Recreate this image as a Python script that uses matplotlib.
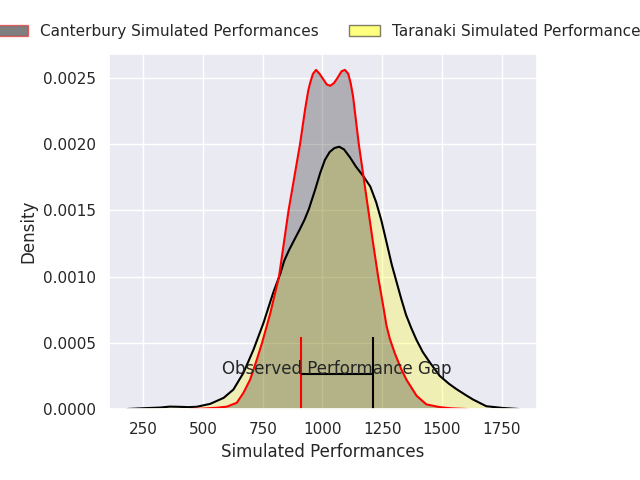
import matplotlib
matplotlib.use("Agg")
import matplotlib.pyplot as plt
import matplotlib.patches as mpatches
from matplotlib.ticker import MultipleLocator
import seaborn as sns

# --- density curves (x = performance, y = density) ---
cant_x = [446, 500, 560, 600, 641, 669, 697, 725, 747, 781, 818, 858, 906, 927,
          940, 948, 960, 973, 988, 1003, 1018, 1032, 1048, 1063, 1080, 1094, 1108,
          1118, 1128, 1140, 1152, 1172, 1192, 1212, 1233, 1255, 1268, 1282, 1303,
          1330, 1352, 1394, 1435, 1491, 1540, 1604]
cant_y = [0.0, 0.000003, 0.00001, 0.000018, 0.000047, 0.000122, 0.000222, 0.000373,
          0.0005, 0.00072, 0.0010, 0.0015, 0.0020, 0.00226,
          0.0024, 0.00246, 0.00253, 0.00256, 0.00253, 0.00249, 0.00245, 0.00244,
          0.00246, 0.0025, 0.00255, 0.00256, 0.00253,
          0.00246, 0.00236, 0.00218, 0.0020, 0.00175, 0.0015, 0.00125, 0.0010,
          0.00077, 0.00063, 0.00053, 0.00042,
          0.0003, 0.00022, 0.0001, 0.000035, 0.000014, 0.000005, 0.0]

tara_x = [183, 250, 321, 360, 391, 440, 474, 530, 586, 627, 669, 711, 753, 794,
          823, 840, 860, 880, 906, 925, 943, 970, 990, 1010, 1030, 1050, 1070,
          1090, 1115, 1140, 1170, 1200, 1225, 1247, 1268, 1290, 1310, 1330, 1350,
          1372, 1394, 1420, 1450, 1491, 1530, 1561, 1600, 1630, 1686, 1754, 1821]
tara_y = [0.0, 0.000006, 0.000011, 0.000018, 0.000017, 0.000014, 0.000017, 0.000039,
          0.000084, 0.000147, 0.000273, 0.000448, 0.00065, 0.00088,
          0.00102, 0.00112, 0.0012, 0.00127, 0.00136, 0.00143, 0.00151, 0.00166,
          0.00178, 0.00188, 0.00194, 0.00197, 0.00198,
          0.00196, 0.0019, 0.00183, 0.00176, 0.00168, 0.00156, 0.00142, 0.00126,
          0.00109, 0.00096, 0.00083, 0.00071,
          0.00061, 0.00052, 0.00043, 0.00035, 0.00025, 0.00019, 0.00015, 0.000105,
          0.000072, 0.000021, 0.000008, 0.0]

# observed performances (the gap markers)
cant_obs = 909
tara_obs = 1211
marker_top = 0.00054
gap_level = 0.000265

sns.set_theme()

fig = plt.figure(figsize=(6.4, 4.8), dpi=100)
ax = fig.add_axes([0.1703, 0.1479, 0.6683, 0.7396])

# Taranaki first, then Canterbury over it
ax.fill_between(tara_x, tara_y, color='yellow', alpha=0.25, linewidth=0)
ax.plot(tara_x, tara_y, color='black', linewidth=1.5)
ax.fill_between(cant_x, cant_y, color='black', alpha=0.25, linewidth=0)
ax.plot(cant_x, cant_y, color='red', linewidth=1.5)

# observed gap
ax.vlines(cant_obs, 0, marker_top, color='red', linewidth=1.5)
ax.vlines(tara_obs, 0, marker_top, color='black', linewidth=1.5)
ax.hlines(gap_level, cant_obs, tara_obs, color='black', linewidth=1.5)
ax.text((cant_obs + tara_obs) / 2, 0.0003, 'Observed Performance Gap',
        ha='center', va='center', fontsize=12, color='#262626')

ax.set_xlim(106, 1897)
ax.set_ylim(0, 0.00268)
ax.xaxis.set_major_locator(MultipleLocator(250))
ax.set_xlabel('Simulated Performances')
ax.set_ylabel('Density')

handles = [
    mpatches.Patch(facecolor='black', edgecolor='red', alpha=0.5,
                   label='Canterbury Simulated Performances'),
    mpatches.Patch(facecolor='yellow', edgecolor='black', alpha=0.5,
                   label='Taranaki Simulated Performances'),
]
ax.legend(handles=handles, loc='lower center', bbox_to_anchor=(0.5, 1.003),
          ncol=2, frameon=False)

fig.savefig('out.png', dpi=100)
